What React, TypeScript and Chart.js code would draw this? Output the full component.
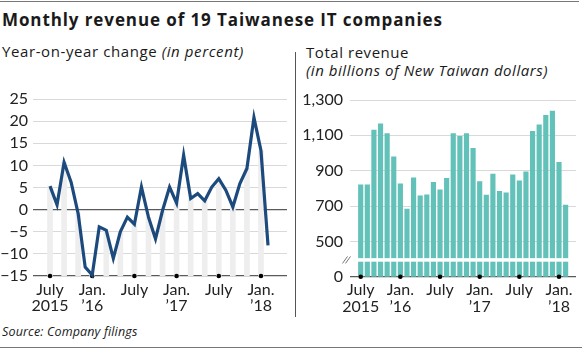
import React, { useEffect, useRef } from "react";
import { Chart, registerables } from "chart.js";
Chart.register(...registerables);

// Months from July 2015 to February 2018
const months = [
  "2015-07", "2015-08", "2015-09", "2015-10", "2015-11", "2015-12",
  "2016-01", "2016-02", "2016-03", "2016-04", "2016-05", "2016-06",
  "2016-07", "2016-08", "2016-09", "2016-10", "2016-11", "2016-12",
  "2017-01", "2017-02", "2017-03", "2017-04", "2017-05", "2017-06",
  "2017-07", "2017-08", "2017-09", "2017-10", "2017-11", "2017-12",
  "2018-01", "2018-02",
];

// Year-on-year change, percent
const yoyChange = [
  5.3, 1.1, 10.7, 6.2, -0.9, -13.0,
  -14.8, -3.9, -4.7, -11.0, -5.0, -1.7,
  -3.3, 5.1, -1.7, -6.6, -0.2, 5.1,
  1.5, 12.3, 2.5, 3.6, 2.0, 5.1,
  7.0, 4.4, 0.6, 5.9, 9.3, 20.8,
  13.3, -8.1,
];

// Total revenue, billions of NT$
const revenue = [
  820, 820, 1130, 1165, 1110, 978,
  825, 682, 859, 758, 763, 834,
  791, 857, 1110, 1094, 1110, 1026,
  838, 762, 881, 783, 775, 877,
  843, 894, 1122, 1160, 1213, 1237,
  947, 706,
];

const tickMonths = [0, 6, 12, 18, 24, 30];
const tickLabels = [["July", "2015"], ["Jan.", "\u201916"], ["July"], ["Jan.", "\u201917"], ["July"], ["Jan.", "\u201918"]];

const yoyMin = -15;
const yoyMax = 25;
const revFloor = 300; // axis baseline labelled "0" (broken axis)
const revMax = 1300;
const breakLow = 385;
const breakHigh = 405;

const FONT = "Lato, 'Noto Sans', sans-serif";
const TEXT_FONT = "'Open Sans', Lato, sans-serif";
const BLUE = "#1d4a7c";
const TEAL = "#62c1b9";
const GRID = "#d9d9d9";
const AXIS = "#5a5a5a";

Chart.defaults.font.family = FONT;

function LeftChart() {
  const ref = useRef<HTMLCanvasElement | null>(null);
  useEffect(() => {
    const canvas = ref.current!;
    const stripes = yoyChange
      .map((v, i) => ({ x: i, y: [yoyMin, v] }))
      .filter((_, i) => i % 2 === 0);
    const chart = new Chart(canvas, {
      type: "bar",
      data: {
        datasets: [
          {
            type: "line",
            data: yoyChange.map((v, i) => ({ x: i, y: v })),
            borderColor: BLUE,
            borderWidth: 3.2,
            pointRadius: 0,
            tension: 0,
            order: 0,
            clip: false,
          } as any,
          {
            type: "scatter",
            data: tickMonths.map((m) => ({ x: m, y: yoyMin })),
            backgroundColor: "#000",
            pointRadius: 2.3,
            borderWidth: 0,
            order: 1,
            clip: false,
          } as any,
          {
            type: "bar",
            data: stripes,
            backgroundColor: "#eeeeee",
            barThickness: 5,
            order: 2,
          } as any,
        ],
      },
      options: {
        animation: false,
        responsive: false,
        maintainAspectRatio: false,
        layout: { padding: { top: 19, right: 5, left: 0, bottom: 0 } },
        plugins: { legend: { display: false }, tooltip: { enabled: false } },
        scales: {
          x: {
            type: "linear",
            min: -2.42,
            max: 33.7,
            offset: false,
            grid: { display: false, drawTicks: false },
            border: { display: false },
            afterBuildTicks: (s: any) => {
              s.ticks = tickMonths.map((v) => ({ value: v }));
            },
            afterFit: (s: any) => {
              s.height = 44;
            },
            ticks: {
              autoSkip: false,
              maxRotation: 0,
              padding: 5,
              color: "#222",
              font: { size: 16, lineHeight: 1.05 },
              callback: (v: any) => tickLabels[tickMonths.indexOf(Number(v))] as any,
            },
          },
          y: {
            min: yoyMin,
            max: yoyMax,
            afterFit: (s: any) => {
              s.width = 33;
            },
            border: { display: false },
            grid: {
              drawTicks: false,
              color: (c: any) => (c.tick && (c.tick.value === 0 || c.tick.value === yoyMin) ? AXIS : GRID),
              lineWidth: (c: any) => (c.tick && (c.tick.value === 0 || c.tick.value === yoyMin) ? 1.3 : 1),
            },
            ticks: {
              stepSize: 5,
              autoSkip: false,
              padding: 5,
              color: "#222",
              font: { size: 16 },
              callback: (v: any) => (Number(v) < 0 ? "\u2212" + Math.abs(Number(v)) : String(v)),
            },
          },
        },
      } as any,
    });
    return () => chart.destroy();
  }, []);
  return (
    <canvas
      ref={ref}
      width={292}
      height={240}
      style={{ position: "absolute", left: 0, top: 80, width: 292, height: 240 }}
    />
  );
}

const breakPlugin = {
  id: "axisBreak",
  afterDatasetsDraw(chart: any) {
    const { ctx, chartArea } = chart;
    const y = chart.scales.y;
    const yTop = y.getPixelForValue(breakHigh);
    const yBot = y.getPixelForValue(breakLow);
    ctx.save();
    ctx.fillStyle = "#fff";
    ctx.fillRect(chartArea.left, yTop, chartArea.right - chartArea.left, yBot - yTop);
    const yc = (yTop + yBot) / 2;
    ctx.strokeStyle = "#777";
    ctx.lineWidth = 1;
    for (const dx of [-5, -2]) {
      ctx.beginPath();
      ctx.moveTo(chartArea.left + dx - 2.5, yc + 3.5);
      ctx.lineTo(chartArea.left + dx + 2.5, yc - 3.5);
      ctx.stroke();
    }
    ctx.restore();
  },
};

function RightChart() {
  const ref = useRef<HTMLCanvasElement | null>(null);
  useEffect(() => {
    const canvas = ref.current!;
    const chart = new Chart(canvas, {
      type: "bar",
      data: {
        datasets: [
          {
            type: "scatter",
            data: tickMonths.map((m) => ({ x: m, y: revFloor })),
            backgroundColor: "#000",
            pointRadius: 2.3,
            borderWidth: 0,
            order: 0,
            clip: false,
          } as any,
          {
            type: "bar",
            data: revenue.map((v, i) => ({ x: i, y: v })),
            backgroundColor: TEAL,
            barThickness: 4.5,
            order: 1,
          } as any,
        ],
      },
      options: {
        animation: false,
        responsive: false,
        maintainAspectRatio: false,
        layout: { padding: { top: 20, right: 6, left: 0, bottom: 0 } },
        plugins: { legend: { display: false }, tooltip: { enabled: false } },
        scales: {
          x: {
            type: "linear",
            min: -1.62,
            max: 32.57,
            offset: false,
            grid: { display: false, drawTicks: false },
            border: { display: false },
            afterBuildTicks: (s: any) => {
              s.ticks = tickMonths.map((v) => ({ value: v }));
            },
            afterFit: (s: any) => {
              s.height = 43.3;
            },
            ticks: {
              autoSkip: false,
              maxRotation: 0,
              padding: 5,
              color: "#222",
              font: { size: 16, lineHeight: 1.05 },
              callback: (v: any) => tickLabels[tickMonths.indexOf(Number(v))] as any,
            },
          },
          y: {
            min: revFloor,
            max: revMax,
            afterFit: (s: any) => {
              s.width = 52;
            },
            border: { display: false },
            grid: {
              drawTicks: false,
              color: (c: any) => (c.tick && c.tick.value === revFloor ? AXIS : GRID),
              lineWidth: (c: any) => (c.tick && c.tick.value === revFloor ? 1.3 : 1),
            },
            ticks: {
              stepSize: 200,
              autoSkip: false,
              padding: 7,
              color: "#222",
              font: { size: 16 },
              callback: (v: any) => (Number(v) === revFloor ? "0" : Number(v).toLocaleString("en-US")),
            },
          },
        },
      } as any,
      plugins: [breakPlugin],
    });
    return () => chart.destroy();
  }, []);
  return (
    <canvas
      ref={ref}
      width={284}
      height={240}
      style={{ position: "absolute", left: 298, top: 80, width: 284, height: 240 }}
    />
  );
}

export default function App() {
  const text: React.CSSProperties = { position: "absolute", fontFamily: TEXT_FONT, color: "#1a1a1a", whiteSpace: "nowrap" };
  return (
    <div
      style={{
        position: "fixed",
        left: 0,
        top: 0,
        width: 582,
        height: 349,
        background: "#fff",
        overflow: "hidden",
      }}
    >
      <div style={{ position: "absolute", left: 0, top: 1, width: 579, height: 1, background: "#777" }} />
      <div style={{ ...text, left: 2, top: 11, fontSize: 17, lineHeight: "17px", fontWeight: 700, letterSpacing: "0.9px" }}>
        Monthly revenue of 19 Taiwanese IT companies
      </div>
      <div style={{ ...text, left: 2, top: 44, fontSize: 15, lineHeight: "15px", letterSpacing: "0.6px" }}>
        Year-on-year change <i>(in percent)</i>
      </div>
      <div style={{ ...text, left: 306, top: 43, fontSize: 15, lineHeight: "18px", letterSpacing: "0.55px" }}>
        Total revenue
        <br />
        <i>(in billions of New Taiwan dollars)</i>
      </div>
      <div style={{ position: "absolute", left: 295, top: 52, width: 1, height: 265, background: "#555" }} />
      <LeftChart />
      <RightChart />
      <div style={{ ...text, left: 2, top: 325, fontSize: 12.5, lineHeight: "13px", fontStyle: "italic", letterSpacing: "0.15px" }}>
        Source: Company filings
      </div>
      <div style={{ position: "absolute", left: 0, top: 347, width: 582, height: 1, background: "#777" }} />
    </div>
  );
}
